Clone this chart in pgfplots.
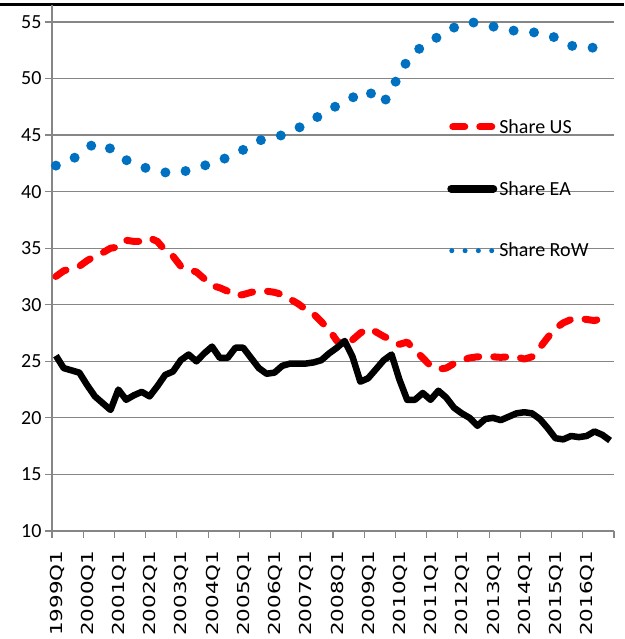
\documentclass[border=0pt]{standalone}
\usepackage{graphicx}
\usepackage{pgfplots}
\pgfplotsset{compat=1.18}
\usepackage{pgfplotstable}
\usepackage{fontspec}
\setmainfont{Carlito}
\newfontfamily\dejavu{DejaVu Sans}
\definecolor{rowblue}{RGB}{0,112,192}
\definecolor{gridgray}{RGB}{134,134,134}
\newcommand{\xl}[1]{\scalebox{1.3}[1]{#1}}

\pgfplotstableread{
i us ea row
0 32.5 25.5 42.3
1 33.0 24.4 42.5
2 33.2 24.2 42.8
3 33.4 24.0 43.3
4 33.9 22.9 43.8
5 34.3 21.9 44.3
6 34.6 21.3 44.1
7 35.0 20.7 43.8
8 35.1 22.5 43.3
9 35.7 21.6 42.8
10 35.6 22.0 42.4
11 35.6 22.3 42.2
12 35.9 21.9 42.0
13 35.6 22.8 41.8
14 34.8 23.8 41.7
15 34.3 24.1 41.6
16 33.4 25.1 41.7
17 33.1 25.6 41.9
18 32.9 25.0 42.1
19 32.3 25.7 42.3
20 31.7 26.3 42.5
21 31.5 25.3 42.8
22 31.2 25.3 43.0
23 30.8 26.2 43.3
24 30.9 26.2 43.7
25 31.1 25.3 44.2
26 31.2 24.4 44.5
27 31.2 23.9 44.7
28 31.1 24.0 44.8
29 30.9 24.6 45.0
30 30.5 24.8 45.3
31 30.1 24.8 45.6
32 29.6 24.8 46.0
33 29.2 24.9 46.4
34 28.5 25.1 46.8
35 27.8 25.7 47.2
36 26.8 26.2 47.6
37 26.3 26.8 47.9
38 26.9 25.4 48.3
39 27.5 23.2 48.8
40 27.9 23.5 48.9
41 27.6 24.3 48.3
42 27.2 25.1 47.8
43 26.9 25.6 49.2
44 26.5 23.4 50.2
45 26.7 21.6 51.6
46 26.0 21.6 52.3
47 25.3 22.2 52.9
48 24.6 21.6 53.3
49 24.3 22.4 53.7
50 24.4 21.8 54.2
51 24.8 20.9 54.5
52 25.1 20.4 54.8
53 25.3 20.0 55.0
54 25.4 19.3 54.9
55 25.4 19.9 54.8
56 25.4 20.0 54.6
57 25.35 19.8 54.4
58 25.4 20.1 54.3
59 25.4 20.4 54.2
60 25.2 20.5 54.2
61 25.4 20.4 54.1
62 26.2 19.9 54.0
63 27.1 19.1 53.9
64 27.9 18.2 53.6
65 28.4 18.1 53.2
66 28.7 18.4 52.9
67 28.8 18.3 52.8
68 28.7 18.4 52.8
69 28.6 18.8 52.7
70 28.8 18.5 52.7
71 29.0 18.0 52.8
}\data

\begin{document}
\begin{tikzpicture}[x=1pt,y=1pt]
\path[use as bounding box] (0,0) rectangle (624,639);
\draw[black, line width=3pt] (0,634) -- (624,634);
\begin{axis}[
  at={(52pt,108pt)}, anchor=south west,
  scale only axis, width=562pt, height=526pt,
  xmin=-0.5, xmax=71.5, ymin=10, ymax=56.5,
  axis lines*=left,
  axis line style={gridgray, line width=1.2pt},
  ytick={10,15,20,25,30,35,40,45,50,55},
  xtick={-0.5,3.5,7.5,11.5,15.5,19.5,23.5,27.5,31.5,35.5,39.5,43.5,47.5,51.5,55.5,59.5,63.5,67.5,71.5},
  xticklabels={\xl{1999Q1},\xl{2000Q1},\xl{2001Q1},\xl{2002Q1},\xl{2003Q1},\xl{2004Q1},\xl{2005Q1},\xl{2006Q1},\xl{2007Q1},\xl{2008Q1},\xl{2009Q1},\xl{2010Q1},\xl{2011Q1},\xl{2012Q1},\xl{2013Q1},\xl{2014Q1},\xl{2015Q1},\xl{2016Q1},{}},
  ymajorgrids, grid style={gridgray, line width=1.2pt},
  tick align=outside,
  major tick length=7pt,
  tick style={gridgray, line width=1.2pt},
  yticklabel style={font=\fontsize{20}{24}\selectfont, /pgf/number format/assume math mode=true},
  xticklabel style={font=\dejavu\fontsize{16.5}{20}\selectfont, xshift=5pt, yshift=-9pt, rotate=90, anchor=east},
  legend style={at={(0.703,0.787)}, anchor=north west, draw=none, fill=none,
    font=\fontsize{20}{24}\selectfont, row sep=42.5pt, inner sep=0pt,
    /tikz/every even column/.append style={column sep=4pt}},
  legend cell align=left,
  clip=false,
]
\addplot[red, line width=7pt, dash pattern=on 12pt off 15pt, line cap=round, line join=round,
  legend image code/.code={\draw[red, line width=7pt, dash pattern=on 12pt off 15pt, line cap=round] (3.5pt,0pt) -- (42.5pt,0pt);}]
  table[x=i,y=us]{\data};
\addlegendentry{Share US}
\addplot[black, line width=6.5pt, line join=round,
  legend image code/.code={\draw[black, line width=8pt, line cap=round] (2pt,0pt) -- (44pt,0pt);}]
  table[x=i,y=ea]{\data};
\addlegendentry{Share EA}
\addplot[rowblue, line width=10pt, dash pattern=on 0pt off 20.5pt, line cap=round,
  legend image code/.code={\draw[rowblue, line width=5pt, line cap=round, dash pattern=on 0pt off 13.3pt] (2.5pt,0pt) -- (44pt,0pt);}]
  table[x=i,y=row]{\data};
\addlegendentry{Share RoW}
\end{axis}
\end{tikzpicture}
\end{document}
